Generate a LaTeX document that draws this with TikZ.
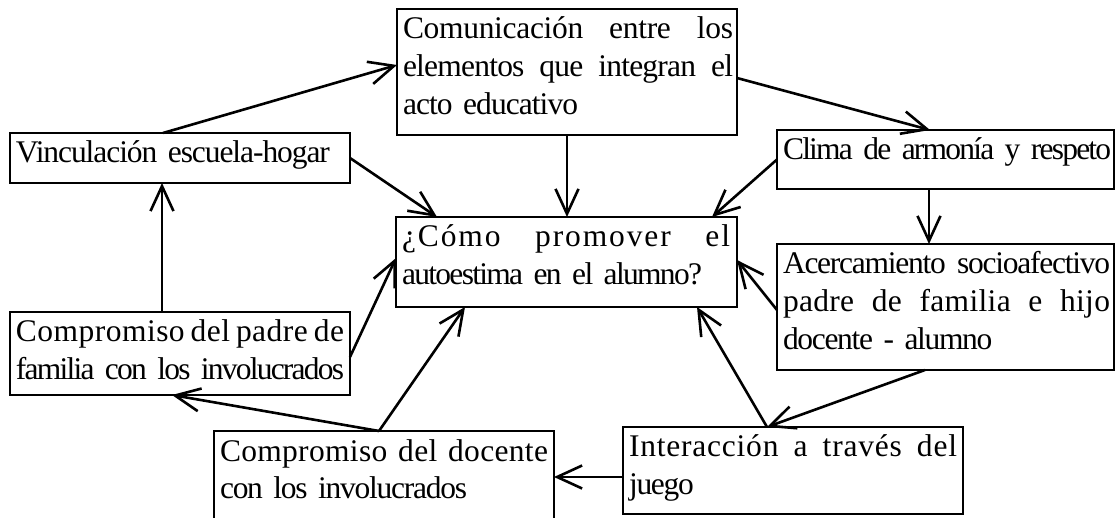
\documentclass[tikz,border=0pt]{standalone}
\usepackage{fontspec}
\setmainfont{Liberation Serif}[WordSpace=0.6,LetterSpace=-4]
\usetikzlibrary{arrows.meta}
% justified line of given width (words separated by \hfill) with a letter spacing
\newcommand\lsl[3][330pt]{\makebox[#1][l]{\addfontfeature{LetterSpace=#2}#3}}
% natural (last) line with a letter spacing
\newcommand\nat[2]{\mbox{\addfontfeature{LetterSpace=#1}#2}}
\begin{document}
\begin{tikzpicture}[x=1pt,y=-1pt,
  box/.style={draw, line width=2.8pt, rectangle, inner sep=0pt, outer sep=0pt},
  txt/.style={inner sep=0pt, outer sep=0pt, anchor=north west, text width=#1, align=left, font=\fontsize{31.5}{38}\selectfont},
  txt/.default=330pt,
  con/.style={line width=2.6pt, -{Straight Barb[length=25pt,width=23pt]}}]
\useasboundingbox (0,0) rectangle (1117,518);
\fill[white] (0,0) rectangle (1117,518);

% boxes
\node[box, minimum width=340pt, minimum height=126pt] (com)   at (567,72) {};
\node[box, minimum width=340pt, minimum height=50pt]  (vinc)  at (180,158) {};
\node[box, minimum width=337pt, minimum height=59pt]  (clima) at (945.5,159.5) {};
\node[box, minimum width=341pt, minimum height=90pt]  (cen)   at (566.5,262) {};
\node[box, minimum width=337pt, minimum height=126pt] (acer)  at (945.5,307) {};
\node[box, minimum width=340pt, minimum height=83pt]  (padre) at (180,353.5) {};
\node[box, minimum width=340pt, minimum height=98pt]  (doc)   at (384,480) {};
\node[box, minimum width=340pt, minimum height=87pt]  (inter) at (793,470.5) {};

% texts
\node[txt] (tcom) at ([shift={(6,3.4)}]com.north west)
  {\strut\lsl{-1}{Comunicación\hfill entre\hfill los}\\\lsl{-2.5}{elementos\hfill que\hfill integran\hfill el}\\\nat{-3}{acto educativo}};
\node[txt] (tvinc) at ([shift={(6,3.4)}]vinc.north west)
  {\strut\nat{-3.4}{Vinculación escuela-hogar}};
\node[txt=327pt] (tclima) at ([shift={(6,3.4)}]clima.north west)
  {\strut\nat{-5.7}{Clima de armonía y respeto}};
\node[txt] (tcen) at ([shift={(6,3.4)}]cen.north west)
  {\strut\lsl[328pt]{6}{¿Cómo\hfill promover\hfill el}\\\nat{-5.4}{autoestima en el alumno?}};
\node[txt=327pt] (tacer) at ([shift={(6,3.4)}]acer.north west)
  {\strut\lsl[327pt]{-4}{Acercamiento\hfill socioafectivo}\\\lsl[327pt]{1}{padre\hfill de\hfill familia\hfill e\hfill hijo}\\\nat{-4.2}{docente - alumno}};
\node[txt] (tpadre) at ([shift={(6,3.4)}]padre.north west)
  {\strut\lsl[328pt]{1.5}{Compromiso\hfill del\hfill padre\hfill de}\\\nat{-5.7}{familia con los involucrados}};
\node[txt] (tdoc) at ([shift={(6,3.4)}]doc.north west)
  {\strut\lsl[328pt]{1}{Compromiso\hfill del\hfill docente}\\\nat{-4}{con los involucrados}};
\node[txt] (tinter) at ([shift={(6,3.4)}]inter.north west)
  {\strut\lsl[328pt]{2.5}{Interacción\hfill a\hfill través\hfill del}\\\nat{-4}{juego}};

% connectors
\draw[con] ([shift={(153,0)}]vinc.north west) -- ([shift={(0,56)}]com.north west);
\draw[con] ([shift={(0,69)}]com.north east) -- ([shift={(153,0)}]clima.north west);
\draw[con] (com.south) -- (com.south |- cen.north);
\draw[con] (vinc.east) -- ([shift={(41,0)}]cen.north west);
\draw[con] (clima.west) -- ([shift={(-25,0)}]cen.north east);
\draw[con] ([shift={(152,0)}]clima.south west) -- ([shift={(152,0)}]acer.north west);
\draw[con] ([shift={(0,66)}]acer.north west) -- ([shift={(0,43)}]cen.north east);
\draw[con] ([shift={(148,0)}]acer.south west) -- ([shift={(144,0)}]inter.north west);
\draw[con] ([shift={(144,0)}]inter.north west) -- ([shift={(301,0)}]cen.south west);
\draw[con] ([shift={(0,50)}]inter.north west) -- ([shift={(0,46)}]doc.north east);
\draw[con] ([shift={(165,0)}]doc.north west) -- ([shift={(69,0)}]cen.south west);
\draw[con] ([shift={(165,0)}]doc.north west) -- ([shift={(162,0)}]padre.south west);
\draw[con] ([shift={(152,0)}]padre.north west) -- ([shift={(152,0)}]vinc.south west);
\draw[con] ([shift={(0,45)}]padre.north east) -- ([shift={(0,41)}]cen.north west);
\end{tikzpicture}
\end{document}
